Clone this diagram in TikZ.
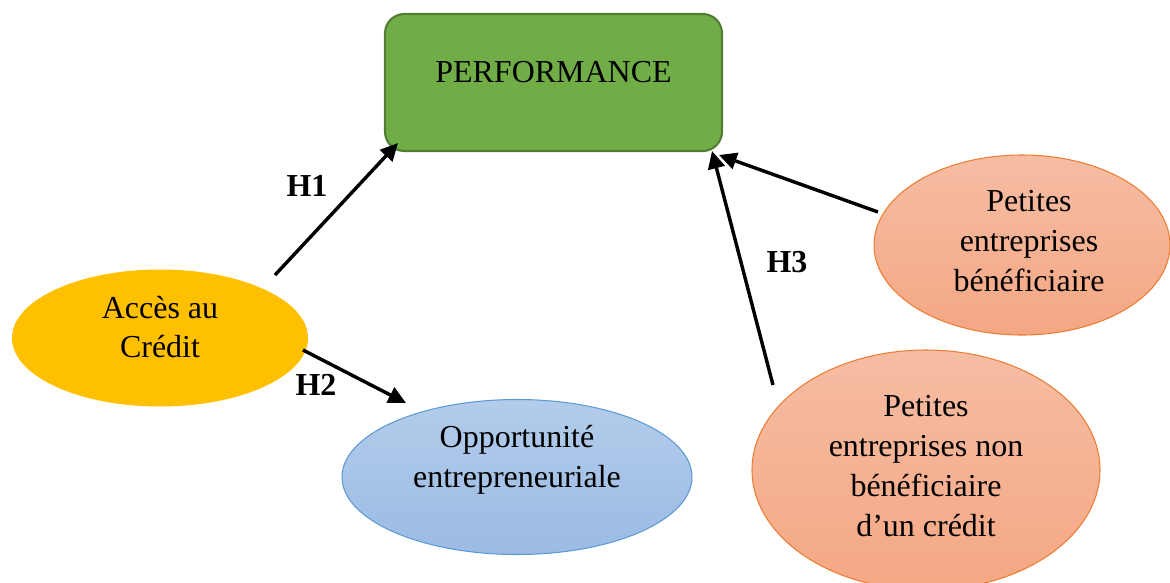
\documentclass[tikz,border=0pt]{standalone}
\usepackage{fontspec}
\setmainfont{Liberation Serif}
\usetikzlibrary{arrows.meta}
\definecolor{pgreen}{HTML}{70AD47}
\definecolor{pgreenb}{HTML}{507E32}
\definecolor{pyellow}{HTML}{FFC000}
\definecolor{pbluet}{HTML}{B3CCEA}
\definecolor{pblueb}{HTML}{9BBBE4}
\definecolor{pblueline}{HTML}{5B9BD5}
\definecolor{porat}{HTML}{F6BDA4}
\definecolor{porab}{HTML}{F4A783}
\definecolor{poraline}{HTML}{ED7D31}
\tikzset{
  txt/.style={font=\fontsize{18.2}{22.7}\selectfont, align=center, inner sep=0pt},
  hlab/.style={font=\fontsize{18.2}{22.7}\selectfont\bfseries, inner sep=0pt},
  ell/.style={ellipse, inner sep=0pt},
  conn/.style={line width=1.95pt, -{Triangle[length=10pt,width=9.5pt]}},
}
\usetikzlibrary{shapes.geometric}
\begin{document}
\begin{tikzpicture}[x=0.02cm,y=-0.02cm]
\useasboundingbox (0,0) rectangle (1170,582);
% PERFORMANCE box
\node[draw=pgreenb, line width=1.2pt, fill=pgreen, rounded corners=11pt,
      minimum width=337*0.02cm, minimum height=137*0.02cm, inner sep=0pt]
      (perf) at (553.5,82.5) {};
\node[txt] (perft) at (553.5,72) {PERFORMANCE};
% Acces au credit
\node[ell, fill=pyellow, minimum width=296*0.02cm, minimum height=137*0.02cm] (acc) at (160,338) {};
\node[txt] (acct) at (160,327) {Accès au\\Crédit};
% Opportunite
\node[ell, draw=pblueline, line width=0.6pt, top color=pbluet, bottom color=pblueb,
      minimum width=350*0.02cm, minimum height=155*0.02cm] (opp) at (517,477) {};
\node[txt] (oppt) at (517,460) {Opportunité\\entrepreneuriale};
% Petites entreprises beneficiaire
\node[ell, draw=poraline, line width=0.6pt, top color=porat, bottom color=porab,
      minimum width=296*0.02cm, minimum height=180*0.02cm] (pb) at (1022,245) {};
\node[txt] (pbt) at (1029,241) {Petites\\entreprises\\bénéficiaire};
% Petites entreprises non beneficiaire
\node[ell, draw=poraline, line width=0.6pt, top color=porat, bottom color=porab,
      minimum width=348*0.02cm, minimum height=240*0.02cm] (pnb) at (926,470) {};
\node[txt] (pnbt) at (926,466) {Petites\\entreprises non\\bénéficiaire\\d’un crédit};
% connector end points
\coordinate (h1a) at (275,275);
\coordinate (h1b) at (398,143);
\coordinate (h2a) at (303,350);
\coordinate (h2b) at (406,403);
\coordinate (h3a) at (773,385);
\coordinate (h3b) at (712,151);
\coordinate (h4a) at (878,212);
\coordinate (h4b) at (719,155);
\draw[conn] (h1a) -- (h1b);
\draw[conn] (h2a) -- (h2b);
\draw[conn] (h3a) -- (h3b);
\draw[conn] (h4a) -- (h4b);
% labels
\node[hlab] (l1) at (307,186) {H1};
\node[hlab] (l2) at (316,385) {H2};
\node[hlab] (l3) at (787,262) {H3};
\end{tikzpicture}
\end{document}
